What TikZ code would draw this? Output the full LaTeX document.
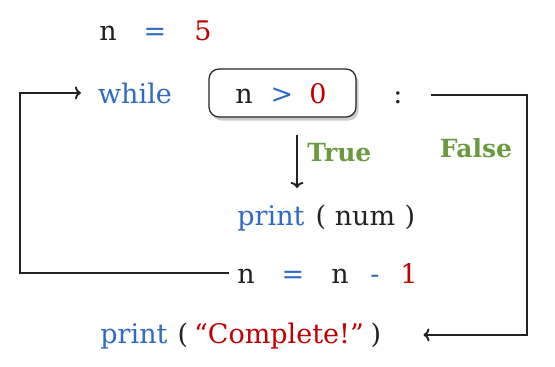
\documentclass[tikz,border=0pt]{standalone}
\usepackage{fontspec}
\setmainfont{DejaVu Serif}
\usepackage{tikz}
\usetikzlibrary{calc,positioning,arrows.meta,shadows}
\definecolor{kwblue}{HTML}{2F6BC4}
\definecolor{numred}{HTML}{C00000}
\definecolor{lblgreen}{HTML}{6A9A3E}
\definecolor{txtblack}{HTML}{222222}
\tikzset{
  tok/.style={anchor=base,inner sep=0pt,text=txtblack,font=\fontsize{27}{31}\selectfont},
  kw/.style={tok,text=kwblue},
  num/.style={tok,text=numred},
  cond/.style={rectangle,rounded corners=10pt,draw=txtblack,fill=white,line width=1.2pt,
    minimum width=147pt,minimum height=48pt,
    drop shadow={opacity=0.4,shadow xshift=2.5pt,shadow yshift=-3.5pt}},
  branch/.style={text=lblgreen,font=\bfseries\fontsize{25}{29}\selectfont},
  flow/.style={draw=txtblack,line width=1.9pt,-{To[length=6pt,width=13pt]}},
}
\begin{document}
\begin{tikzpicture}[x=1pt,y=-1pt]
  \useasboundingbox (0,0) rectangle (555,367);
  % n = 5
  \node[tok] (initn) at (108,40) {n};
  \node[kw] (initeq) at (155,40) {=};
  \node[num] (initval) at (203,40) {5};
  % while header
  \node[kw] (while) at (135,103) {while};
  \node[cond] (cond) at (282.5,93) {};
  \node[tok] (condn) at (244,103) {n};
  \node[kw] (condgt) at (282,103) {>};
  \node[num] (condval) at (318,103) {0};
  \node[tok] (colon) at (398,103) {:};
  % loop body
  \node[kw] (bodyprint) at (271,225) {print};
  \node[tok] (bodyopen) at (321,225) {(};
  \node[tok] (bodyarg) at (365,225) {num};
  \node[tok] (bodyclose) at (410,225) {)};
  \node[tok] (decn) at (246,283) {n};
  \node[kw] (deceq) at (293,283) {=};
  \node[tok] (decn2) at (340,283) {n};
  \node[kw] (decminus) at (375,283) {-};
  \node[num] (decval) at (409,283) {1};
  % after the loop
  \node[kw] (doneprint) at (134,343) {print};
  \node[tok] (doneopen) at (183,343) {(};
  \node[num] (donearg) at (279,343) {“Complete!”};
  \node[tok] (doneclose) at (376,343) {)};
  \node[branch] (falselbl) at (476,148) {False};
  \coordinate (loopL) at (20,273);
  \coordinate (exitR) at (527,95);
  \coordinate (trueEnd) at (297,188);
  % arrows
  \draw[flow,shorten >=17pt] ([xshift=-8pt]decn.west |- loopL) -- (loopL) |- (while.west);
  \draw[flow,shorten <=28pt,shorten >=42pt] (colon.east |- exitR) -- (exitR) |- (doneclose.east);
  \draw[flow,shorten <=17pt] (cond.south -| trueEnd) -- (trueEnd)
    node[branch,midway,right=6pt] (truelbl) {True};
\end{tikzpicture}
\end{document}
